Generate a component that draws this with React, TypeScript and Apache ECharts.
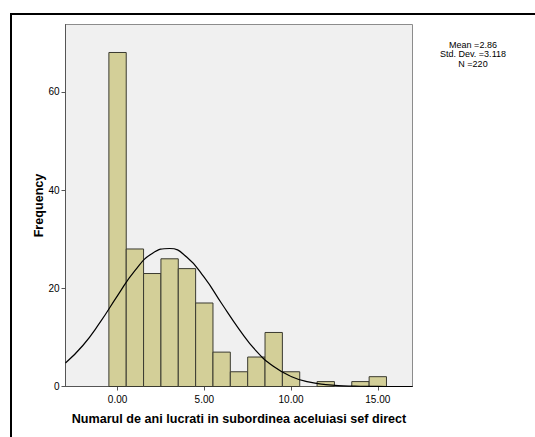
import React, { useEffect, useRef } from "react";
import * as echarts from "echarts";

// Histogram bins (centres) and frequencies
const binCenters = [0, 1, 2, 3, 4, 5, 6, 7, 8, 9, 10, 11, 12, 13, 14, 15];
const frequencies = [68, 28, 23, 26, 24, 17, 7, 3, 6, 11, 3, 0, 1, 0, 1, 2];

// Normal curve
const curveX = [-3, -2, -1, 0, 1, 2, 3, 4, 5, 6, 7, 8, 9, 10, 11, 12, 13, 14, 15, 16, 17];
const curveY = [4.8, 8.35, 13.1, 18.5, 23.6, 27.1, 28.1, 26.3, 22.2, 16.9, 11.7, 7.2, 4.05, 2.05, 0.93, 0.38, 0.14, 0.05, 0.01, 0.0, 0.0];

const xTicks = [0, 5, 10, 15];
const yTicks = [0, 20, 40, 60];

const statsLines = ["Mean =2.86", "Std. Dev. =3.118", "N =220"];
const xTitle = "Numarul de ani lucrati in subordinea aceluiasi sef direct";
const yTitle = "Frequency";

const FONT = "'Liberation Sans', Arial, sans-serif";

export default function App() {
  const ref = useRef<HTMLDivElement>(null);
  useEffect(() => {
    if (!ref.current) return;
    const chart = echarts.init(ref.current, null, { renderer: "svg" });
    const barData = binCenters.map((c, i) => [c, frequencies[i]]);
    const curveData = curveX.map((x, i) => [x, curveY[i]]);
    chart.setOption({
      animation: false,
      textStyle: { fontFamily: FONT },
      grid: {
        left: 65.5,
        top: 24.5,
        right: 122.5,
        bottom: 50.5,
        show: true,
        backgroundColor: "#f0f0f0",
        borderColor: "#8c8c8c",
        borderWidth: 1,
      },
      xAxis: {
        type: "value",
        min: -3,
        max: 17,
        name: xTitle,
        nameLocation: "middle",
        nameGap: 26,
        nameMoveOverlap: false,
        nameTextStyle: { fontFamily: FONT, fontSize: 12.6, fontWeight: "bold", color: "#000" },
        axisLine: { show: true, onZero: false, lineStyle: { color: "#555", width: 1 } },
        axisTick: { show: true, length: 4, customValues: xTicks, lineStyle: { color: "#555" } },
        axisLabel: {
          customValues: xTicks,
          margin: 8,
          fontSize: 10,
          color: "#000",
          fontFamily: FONT,
          formatter: (v: number) => v.toFixed(2),
        },
        splitLine: { show: false },
      },
      yAxis: {
        type: "value",
        min: 0,
        max: 73.7,
        name: yTitle,
        nameLocation: "middle",
        nameGap: 20,
        nameMoveOverlap: false,
        nameTextStyle: { fontFamily: FONT, fontSize: 12.6, fontWeight: "bold", color: "#000" },
        axisLine: { show: true, onZero: false, lineStyle: { color: "#555", width: 1 } },
        axisTick: { show: true, length: 4, customValues: yTicks, lineStyle: { color: "#555" } },
        axisLabel: {
          customValues: yTicks,
          margin: 6,
          fontSize: 10,
          color: "#000",
          fontFamily: FONT,
        },
        splitLine: { show: false },
      },
      graphic: [
        {
          type: "rect",
          shape: { x: 11, y: 14, width: 600, height: 600 },
          style: { fill: "none", stroke: "#000", lineWidth: 2 },
          silent: true,
        },
        {
          type: "text",
          x: 473,
          y: 40,
          style: {
            text: statsLines.join("\n"),
            fontFamily: FONT,
            fontSize: 9,
            lineHeight: 9.5,
            fill: "#000",
            align: "center",
            verticalAlign: "top",
          },
        },
      ],
      series: [
        {
          type: "custom",
          data: barData,
          encode: { x: 0, y: 1 },
          renderItem: (params: any, api: any) => {
            const c = api.value(0);
            const v = api.value(1);
            if (!v) return null;
            const p0 = api.coord([c - 0.5, 0]);
            const p1 = api.coord([c + 0.5, v]);
            return {
              type: "rect",
              shape: { x: p0[0], y: p1[1], width: p1[0] - p0[0], height: p0[1] - p1[1] },
              style: { fill: "#d3cf98", stroke: "#3a3a30", lineWidth: 1 },
            };
          },
          z: 2,
        },
        {
          type: "line",
          data: curveData,
          smooth: true,
          symbol: "none",
          lineStyle: { color: "#000", width: 1.2 },
          z: 3,
          silent: true,
        },
      ],
    });
    return () => chart.dispose();
  }, []);
  return (
    <div
      ref={ref}
      style={{ position: "absolute", left: 0, top: 0, width: 535, height: 437, background: "#fff" }}
    />
  );
}
